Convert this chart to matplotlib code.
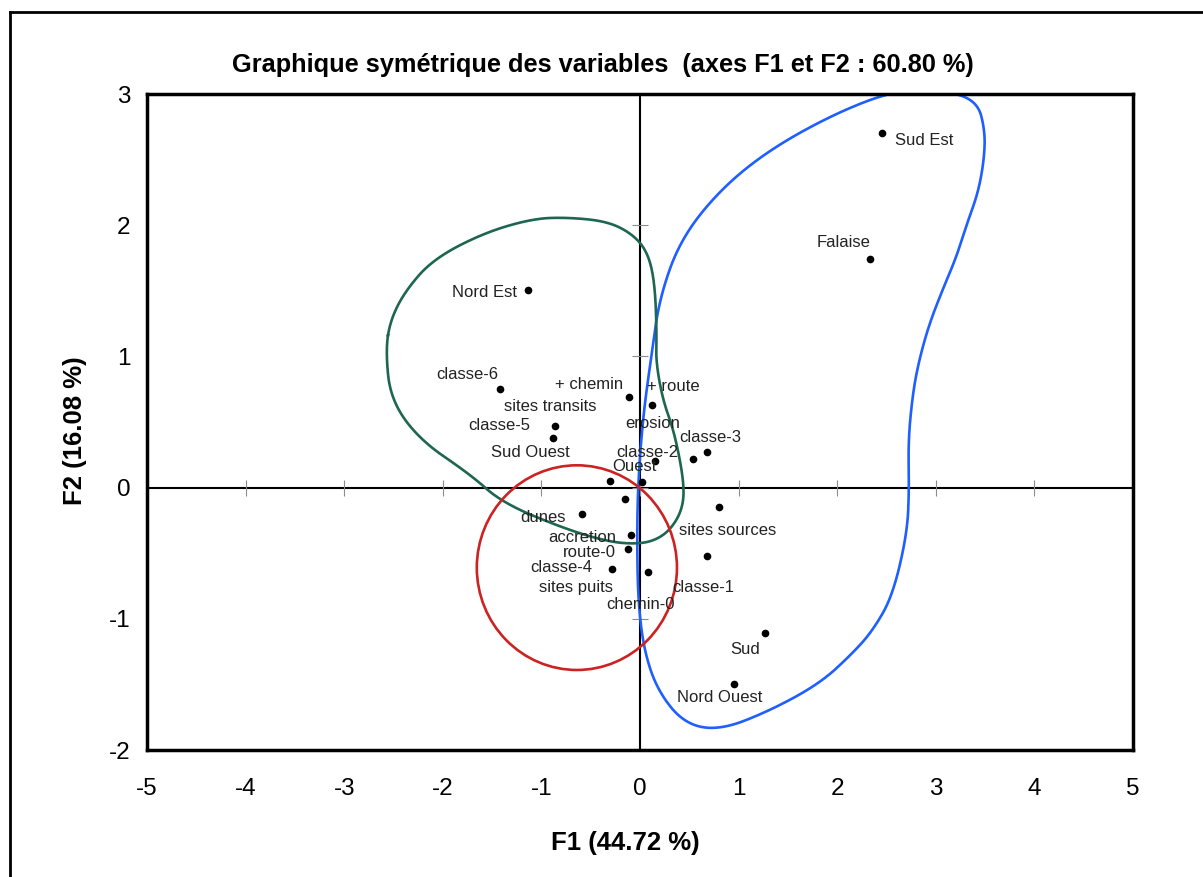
import numpy as np
import matplotlib
matplotlib.use("Agg")
import matplotlib.pyplot as plt
from matplotlib.patches import Ellipse
from matplotlib.lines import Line2D

plt.rcParams['font.family'] = ['Liberation Sans', 'DejaVu Sans']
plt.rcParams['axes.unicode_minus'] = False

# coordonnees des modalites (F1, F2)
noms = ["Sud Est", "Falaise", "Nord Est", "classe-6", "+ chemin", "+ route",
        "classe-5", "Sud Ouest", "classe-3", "erosion", "classe-2", "sites transits",
        "Ouest", "sites puits", "sites sources", "dunes", "accretion", "route-0",
        "classe-4", "chemin-0", "classe-1", "Sud", "Nord Ouest"]
f1 = [2.45, 2.33, -1.14, -1.42, -0.11, 0.12,
      -0.86, -0.88, 0.68, 0.54, 0.15, -0.30,
      0.02, -0.15, 0.80, -0.59, -0.09, -0.12,
      -0.28, 0.08, 0.68, 1.27, 0.95]
f2 = [2.70, 1.74, 1.51, 0.75, 0.69, 0.63,
      0.47, 0.38, 0.27, 0.22, 0.20, 0.05,
      0.04, -0.09, -0.15, -0.20, -0.36, -0.47,
      -0.62, -0.64, -0.52, -1.11, -1.50]

# contours des groupes
bleu_x = [2.60, 3.07, 3.42, 3.50, 3.49, 3.43, 3.32, 3.21, 3.07, 2.94, 2.84, 2.77,
          2.72, 2.73, 2.71, 2.56, 2.36, 2.16, 1.83, 1.32, 0.81, 0.45, 0.18, 0.04,
          -0.02, -0.03, -0.02, 0.03, 0.12, 0.20, 0.41, 0.81, 1.32, 2.00]
bleu_y = [3.03, 3.03, 2.95, 2.72, 2.50, 2.25, 2.02, 1.76, 1.51, 1.26, 1.00, 0.74,
          0.36, 0.00, -0.35, -0.83, -1.09, -1.26, -1.49, -1.70, -1.85, -1.80, -1.55, -1.24,
          -0.86, -0.38, 0.03, 0.54, 1.03, 1.45, 1.89, 2.27, 2.58, 2.86]
vert_x = [-2.58, -2.53, -2.38, -2.10, -1.59, -1.09, -0.74, -0.33, -0.07, 0.08, 0.15, 0.17,
          0.16, 0.23, 0.35, 0.45, 0.43, 0.30, 0.13, -0.07, -0.33, -0.74, -1.39, -1.72,
          -2.23, -2.53]
vert_y = [1.05, 1.28, 1.50, 1.74, 1.94, 2.05, 2.06, 2.03, 1.93, 1.79, 1.56, 1.18,
          0.97, 0.67, 0.42, 0.03, -0.17, -0.33, -0.41, -0.43, -0.41, -0.32, -0.12, 0.10,
          0.36, 0.67]
cercle_centre = (-0.64, -0.61)
cercle_taille = (2.03, 1.56)

xticks = [-5, -4, -3, -2, -1, 0, 1, 2, 3, 4, 5]
yticks = [-2, -1, 0, 1, 2, 3]


def courbe_fermee(xs, ys, n_iter=5):
    # lissage de Chaikin sur un polygone ferme
    pts = np.column_stack([xs, ys])
    for _ in range(n_iter):
        nxt = np.roll(pts, -1, axis=0)
        q = 0.75 * pts + 0.25 * nxt
        r = 0.25 * pts + 0.75 * nxt
        pts = np.empty((2 * len(q), 2))
        pts[0::2] = q
        pts[1::2] = r
    pts = np.vstack([pts, pts[:1]])
    return pts[:, 0], pts[:, 1]


# decalage des etiquettes (pixels)
decalages = {
    "Sud Est": (43, -7), "Falaise": (-26, 17), "Nord Est": (-43, -3),
    "classe-6": (-33, 15), "+ chemin": (-40, 13), "+ route": (21, 18),
    "classe-5": (-56, 0), "Sud Ouest": (-23, -15), "classe-3": (3, 15),
    "erosion": (-41, 35), "classe-2": (-7, 9), "sites transits": (-60, 75),
    "Ouest": (-8, 16), "sites puits": (-49, -88), "sites sources": (9, -23),
    "dunes": (-39, -4), "accretion": (-49, -3), "route-0": (-39, -3),
    "classe-4": (-51, 1), "chemin-0": (-7, -33), "classe-1": (-4, -32),
    "Sud": (-20, -16), "Nord Ouest": (-14, -13),
}


def main():
    fig = plt.figure(figsize=(12.03, 8.77), dpi=100)
    ax = fig.add_axes([0.1222, 0.1448, 0.8196, 0.748])

    ax.set_xlim(-5, 5)
    ax.set_ylim(-2, 3)
    ax.set_xticks(xticks)
    ax.set_yticks(yticks)
    ax.tick_params(length=0, labelsize=17.5)
    ax.tick_params(axis='x', pad=20)
    ax.tick_params(axis='y', pad=12)
    for s in ax.spines.values():
        s.set_linewidth(2.5)

    ax.axhline(0, color='black', lw=1.5, zorder=1)
    ax.axvline(0, color='black', lw=1.5, zorder=1)
    ax.plot(xticks, [0] * len(xticks), ls='', marker='|', ms=11, mew=0.8, color='0.55', zorder=1)
    ax.plot([0] * len(yticks), yticks, ls='', marker='_', ms=11, mew=0.8, color='0.55', zorder=1)

    bx, by = courbe_fermee(bleu_x, bleu_y)
    ax.plot(bx, by, color='#1f5fff', lw=1.9, zorder=2)
    gx, gy = courbe_fermee(vert_x, vert_y)
    ax.plot(gx, gy, color='#1d6650', lw=1.9, zorder=2)
    ax.add_patch(Ellipse(cercle_centre, cercle_taille[0], cercle_taille[1],
                         fill=False, edgecolor='#cc2222', lw=1.9, zorder=2))

    ax.plot(f1, f2, ls='', marker='o', ms=4.5, color='black', zorder=3)
    for nom, x, y in zip(noms, f1, f2):
        ax.annotate(nom, (x, y), xytext=decalages[nom], textcoords='offset pixels',
                    ha='center', va='center', fontsize=12, color='#222222', zorder=4)

    fig.text(0.501, 0.926, "Graphique symétrique des variables  (axes F1 et F2 : 60.80 %)",
             ha='center', va='center', fontsize=18.3, fontweight='bold')
    fig.text(0.5195, 0.0388, "F1 (44.72 %)", ha='center', va='center',
             fontsize=18.5, fontweight='bold')
    fig.text(0.0623, 0.5086, "F2 (16.08 %)", ha='center', va='center',
             fontsize=18.5, fontweight='bold', rotation=90)

    # cadre exterieur
    fig.add_artist(Line2D([0.0083, 0.0083], [0, 0.9863], color='black', lw=2))
    fig.add_artist(Line2D([0.0083, 1], [0.9863, 0.9863], color='black', lw=2))

    plt.savefig("out.png", dpi=100)


if __name__ == '__main__':
    main()
